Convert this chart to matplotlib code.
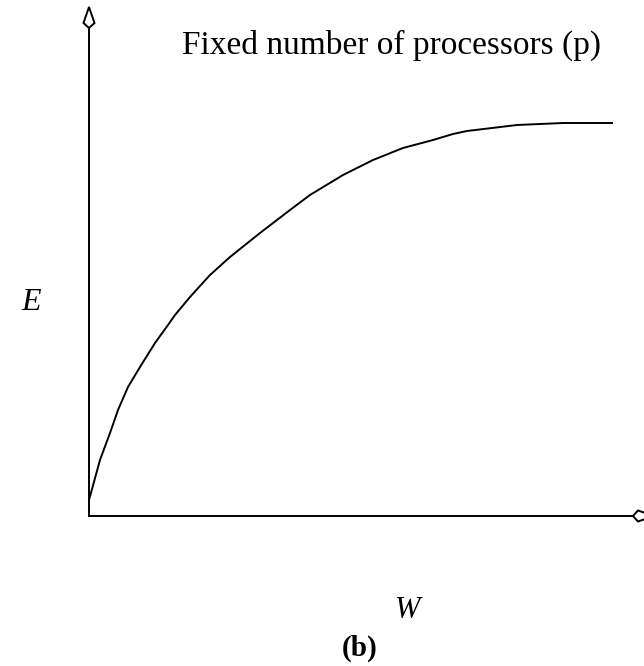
import matplotlib
matplotlib.use("Agg")
import matplotlib.pyplot as plt
from matplotlib.patches import Polygon

# curve (W, E), origin at the axes corner
W = [0, 11, 21, 29, 39, 51, 66, 79, 86, 101, 121, 141, 171, 201, 221,
     254, 284, 314, 344, 364, 378, 428, 474, 514, 523]
E = [16, 56, 83, 106, 129, 149, 173, 191, 201, 219, 241, 259, 283, 306, 321,
     341, 356, 368, 376, 382, 385, 391, 393, 393, 393]

x_end = 551   # length of the W axis
y_end = 509   # length of the E axis

title = "Fixed number of processors (p)"
xlabel = "W"
ylabel = "E"
caption = "(b)"

plt.rcParams["font.family"] = ["Liberation Serif", "DejaVu Serif"]

fig = plt.figure(figsize=(6.44, 6.66), dpi=100)
ax = fig.add_axes([0, 0, 1, 1])
ax.set_xlim(-89, 555)
ax.set_ylim(-150, 516)
ax.axis("off")

# axes lines
ax.plot([0, x_end - 7], [0, 0], color="black", lw=1.4)
ax.plot([0, 0], [0, y_end - 21], color="black", lw=1.4)

# open kite-shaped arrowheads
ax.add_patch(Polygon([[0, y_end], [-5.5, y_end - 16], [0, y_end - 21], [5.5, y_end - 16]],
                     closed=True, facecolor="white", edgecolor="black", lw=1.4))
ax.add_patch(Polygon([[x_end + 14, 0], [x_end - 2, 5.5], [x_end - 7, 0], [x_end - 2, -5.5]],
                     closed=True, facecolor="white", edgecolor="black", lw=1.4))

ax.plot(W, E, color="black", lw=1.4, solid_joinstyle="round")

ax.text(303, 471, title, fontsize=24, ha="center", va="center")
ax.text(-58, 214, ylabel, fontsize=23, style="italic", ha="center", va="center")
ax.text(319, -94, xlabel, fontsize=22, style="italic", ha="center", va="center")
ax.text(271, -132, caption, fontsize=21, weight="bold", ha="center", va="center")

fig.savefig("out.png", dpi=100)
